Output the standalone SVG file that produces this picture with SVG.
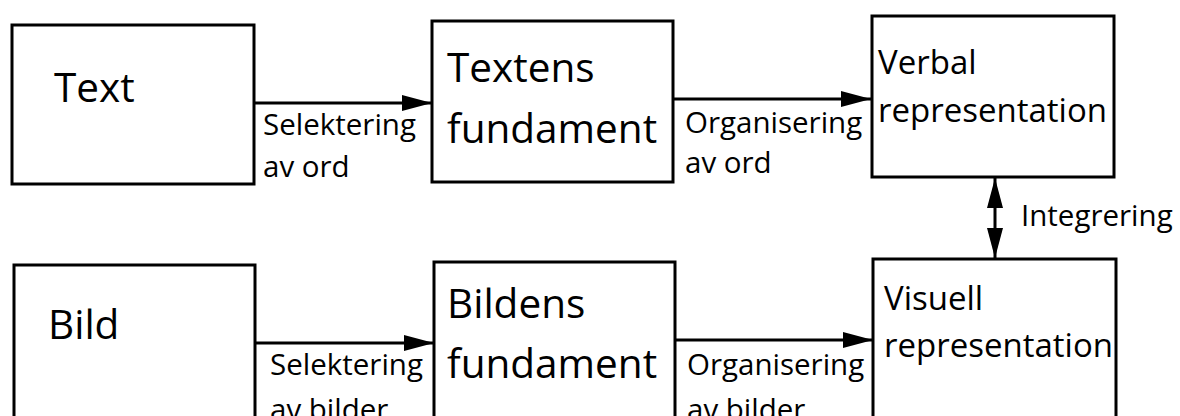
<svg xmlns="http://www.w3.org/2000/svg" width="1180" height="416" viewBox="0 0 1180 416">
<style>
.box{fill:#fff;stroke:#000;stroke-width:3}
.big{font-family:"Open Sans","Noto Sans",sans-serif;font-size:40.5px;fill:#000}
.mid{font-family:"Open Sans","Noto Sans",sans-serif;font-size:33px;fill:#000}
.lbl{font-family:"Open Sans","Noto Sans",sans-serif;font-size:29.5px;fill:#000}
.con{stroke:#000;stroke-width:3;fill:none}
</style>
<defs>
<marker id="ah" markerUnits="userSpaceOnUse" markerWidth="32" markerHeight="18" refX="30" refY="9" orient="auto-start-reverse">
<path d="M0,1 L30,9 L0,17 Z" fill="#000"/>
</marker>
</defs>
<rect width="1180" height="416" fill="#fff"/>
<g id="text-node"><rect class="box" x="12" y="25" width="242" height="159"/><text class="big" x="54" y="102">Text</text></g>
<g id="textens-node"><rect class="box" x="432" y="21" width="241" height="161"/><text class="big" x="447" y="82">Textens</text><text class="big" x="447" y="143">fundament</text></g>
<g id="verbal-node"><rect class="box" x="872" y="16" width="242" height="161"/><text class="mid" x="878" y="74">Verbal</text><text class="mid" x="878" y="122">representation</text></g>
<g id="bild-node"><rect class="box" x="14" y="265" width="241" height="170"/><text class="big" x="48" y="339">Bild</text></g>
<g id="bildens-node"><rect class="box" x="434" y="262" width="241" height="170"/><text class="big" x="447" y="318">Bildens</text><text class="big" x="447" y="378">fundament</text></g>
<g id="visuell-node"><rect class="box" x="873" y="259" width="243" height="170"/><text class="mid" x="884" y="310">Visuell</text><text class="mid" x="884" y="357">representation</text></g>
<g id="connectors">
<line class="con" x1="254" y1="103" x2="432" y2="103" marker-end="url(#ah)"/>
<line class="con" x1="673" y1="99" x2="871" y2="99" marker-end="url(#ah)"/>
<line class="con" x1="255" y1="343" x2="434" y2="343" marker-end="url(#ah)"/>
<line class="con" x1="675" y1="340" x2="873" y2="340" marker-end="url(#ah)"/>
<line class="con" x1="995" y1="178" x2="995" y2="258" marker-start="url(#ah)" marker-end="url(#ah)"/>
<text class="lbl" x="263" y="135">Selektering</text><text class="lbl" x="263" y="177">av ord</text>
<text class="lbl" x="685" y="133">Organisering</text><text class="lbl" x="685" y="173">av ord</text>
<text class="lbl" x="270" y="375">Selektering</text><text class="lbl" x="270" y="420">av bilder</text>
<text class="lbl" x="687" y="375">Organisering</text><text class="lbl" x="687" y="420">av bilder</text>
<text class="lbl" x="1021" y="226">Integrering</text>
</g>
</svg>
